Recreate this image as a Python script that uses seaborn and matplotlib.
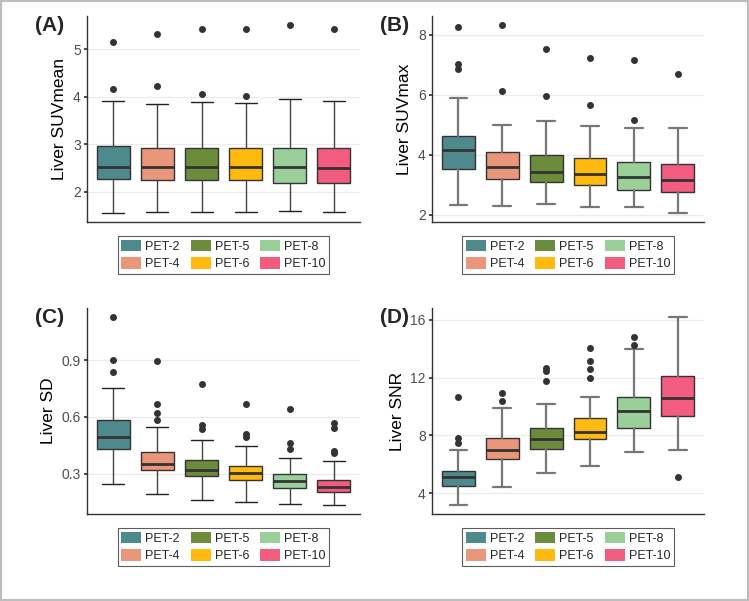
import numpy as np
import seaborn as sns
import matplotlib.pyplot as plt
from matplotlib.patches import Patch, Rectangle

groups = ["PET-2", "PET-4", "PET-5", "PET-6", "PET-8", "PET-10"]
colors = ["#4E8A8C", "#EA967B", "#6B8C3B", "#FFB90F", "#9BCF9A", "#F25C7F"]

# Liver SUVmean (A)
mean_lo = [1.56, 1.57, 1.58, 1.58, 1.585, 1.58]
mean_q1 = [2.27, 2.24, 2.24, 2.25, 2.19, 2.18]
mean_med = [2.52, 2.52, 2.52, 2.52, 2.52, 2.50]
mean_q3 = [2.96, 2.93, 2.93, 2.91, 2.92, 2.92]
mean_hi = [3.90, 3.85, 3.89, 3.87, 3.95, 3.91]
mean_out = [[4.16, 5.14], [4.23, 5.31], [4.05, 5.42], [4.02, 5.42], [5.50], [5.42]]

# Liver SUVmax (B)
max_lo = [2.34, 2.28, 2.37, 2.25, 2.25, 2.07]
max_q1 = [3.53, 3.18, 3.08, 2.99, 2.84, 2.77]
max_med = [4.17, 3.59, 3.44, 3.37, 3.25, 3.16]
max_q3 = [4.64, 4.09, 4.00, 3.91, 3.77, 3.70]
max_hi = [5.89, 4.99, 5.13, 4.95, 4.91, 4.91]
max_out = [[6.85, 7.04, 8.25], [6.12, 8.32], [5.96, 7.53], [5.66, 7.22], [5.15, 7.16], [6.70]]

# Liver SD (C)
sd_lo = [0.245, 0.194, 0.162, 0.152, 0.141, 0.136]
sd_q1 = [0.432, 0.318, 0.288, 0.265, 0.222, 0.205]
sd_med = [0.492, 0.349, 0.321, 0.302, 0.261, 0.231]
sd_q3 = [0.582, 0.415, 0.372, 0.342, 0.296, 0.268]
sd_hi = [0.753, 0.545, 0.475, 0.445, 0.385, 0.367]
sd_out = [[0.838, 0.900, 1.126], [0.584, 0.618, 0.669, 0.896], [0.536, 0.556, 0.771],
          [0.494, 0.510, 0.669], [0.429, 0.464, 0.639], [0.409, 0.422, 0.542, 0.568]]

# Liver SNR (D)
snr_lo = [3.21, 4.44, 5.39, 5.90, 6.82, 6.98]
snr_q1 = [4.53, 6.34, 7.08, 7.72, 8.49, 9.32]
snr_med = [5.13, 6.96, 7.77, 8.21, 9.69, 10.61]
snr_q3 = [5.57, 7.79, 8.49, 9.23, 10.68, 12.14]
snr_hi = [6.98, 9.87, 10.17, 10.68, 14.01, 16.18]
snr_out = [[7.51, 7.84, 10.64], [10.38, 10.91], [11.77, 12.46, 12.65],
           [12.00, 12.58, 13.18, 14.03], [14.27, 14.82], [5.09]]

panels = [
    ("(A)", "Liver SUVmean", [2, 3, 4, 5], (mean_lo, mean_q1, mean_med, mean_q3, mean_hi, mean_out)),
    ("(B)", "Liver SUVmax", [2, 4, 6, 8], (max_lo, max_q1, max_med, max_q3, max_hi, max_out)),
    ("(C)", "Liver SD", [0.3, 0.6, 0.9], (sd_lo, sd_q1, sd_med, sd_q3, sd_hi, sd_out)),
    ("(D)", "Liver SNR", [4, 8, 12, 16], (snr_lo, snr_q1, snr_med, snr_q3, snr_hi, snr_out)),
]

sns.set_theme(style="white")
plt.rcParams['font.family'] = ['Liberation Sans', 'DejaVu Sans']
palette = sns.color_palette(colors)

fig = plt.figure(figsize=(7.49, 6.01), dpi=100)
axes_pos = [
    [0.1162, 0.6306, 0.3645, 0.3428],
    [0.5768, 0.6306, 0.3632, 0.3428],
    [0.1162, 0.1448, 0.3645, 0.3428],
    [0.5768, 0.1448, 0.3632, 0.3428],
]

for i, (tag, ylabel, yticks, data) in enumerate(panels):
    ax = fig.add_axes(axes_pos[i])
    lo, q1, med, q3, hi, out = data
    stats = [dict(whislo=lo[k], q1=q1[k], med=med[k], q3=q3[k], whishi=hi[k],
                  fliers=out[k], label=groups[k]) for k in range(len(groups))]
    # right column has lighter, thicker whiskers
    left_col = i in (0, 2)
    wcol = "#444444" if left_col else "#777777"
    wlw = 1.0 if left_col else 1.6
    capw = 0.5 if left_col else 0.4
    bp = ax.bxp(stats, positions=np.arange(1, 7), widths=0.75, patch_artist=True,
                capwidths=capw,
                boxprops=dict(edgecolor="#333333", linewidth=1.0),
                medianprops=dict(color="#333333", linewidth=2.0),
                whiskerprops=dict(color=wcol, linewidth=wlw),
                capprops=dict(color="#222222" if left_col else wcol, linewidth=wlw),
                flierprops=dict(marker="o", markersize=4, markerfacecolor="#333333",
                                markeredgecolor="#333333"))
    for patch, c in zip(bp["boxes"], palette):
        patch.set_facecolor(c)

    allv = lo + hi + [v for o in out for v in o]
    vmin, vmax = min(allv), max(allv)
    pad = (vmax - vmin) * 0.05
    ax.set_ylim(vmin - pad, vmax + pad)
    ax.set_xlim(0.4, 6.6)
    ax.set_yticks(yticks)
    ax.set_yticklabels([f"{t:g}" for t in yticks])
    ax.set_xticks([])
    ax.yaxis.grid(True, color="#EBEBEB", linewidth=0.9)
    ax.set_axisbelow(True)
    sns.despine(ax=ax)
    for s in ("left", "bottom"):
        ax.spines[s].set_color("#333333")
        ax.spines[s].set_linewidth(1.0)
    ax.tick_params(axis="y", labelsize=10, labelcolor="#4D4D4D", length=2.5,
                   color="#333333", left=True, pad=2)
    ax.set_ylabel(ylabel, fontsize=12.5, color="black", labelpad=4)
    ax.text(-0.19, 1.0, tag, transform=ax.transAxes,
            fontsize=15, fontweight="bold", va="top", ha="left")

    handles = [Patch(facecolor=c, edgecolor="none", label=g) for g, c in zip(groups, palette)]
    leg = ax.legend(handles=handles, ncol=3, loc="upper center", bbox_to_anchor=(0.5, -0.07),
                    frameon=True, fancybox=False, fontsize=9, handlelength=1.6,
                    handleheight=1.0, columnspacing=0.9, handletextpad=0.3,
                    borderpad=0.3, labelspacing=0.35, borderaxespad=0)
    leg.get_frame().set_edgecolor("#333333")
    leg.get_frame().set_linewidth(0.8)

fig.patches.append(Rectangle((0, 0), 1, 1, transform=fig.transFigure, fill=False,
                             edgecolor="#BDBDBD", linewidth=3))
fig.savefig("out.png", dpi=100)
